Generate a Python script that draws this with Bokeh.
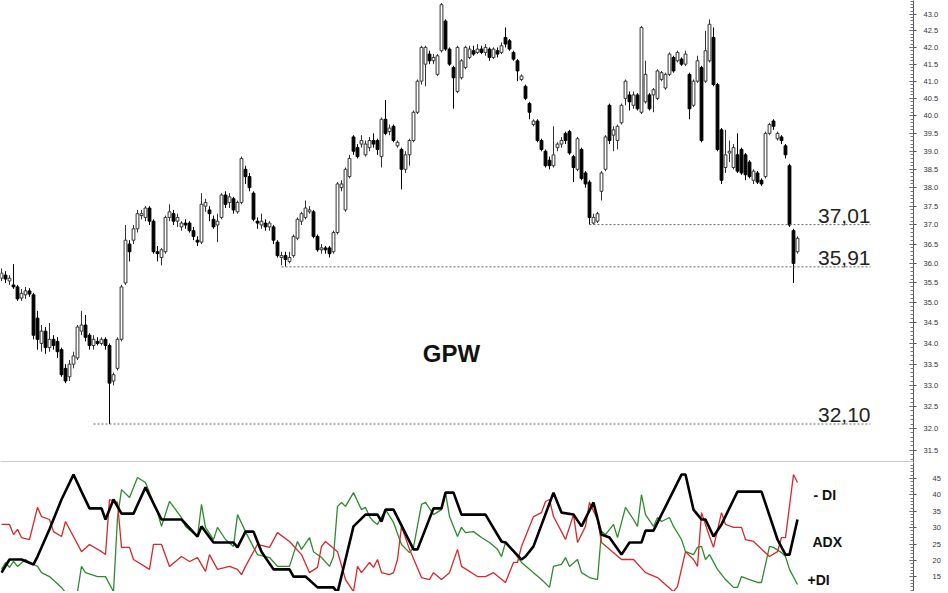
import numpy as np
from bokeh.plotting import figure
from bokeh.layouts import column
from bokeh.models import Range1d, FixedTicker, PrintfTickFormatter, Label, ColumnDataSource
from bokeh.core.properties import value
from bokeh.embed import file_html
from bokeh.resources import INLINE

# ---------------- price data (daily candles) ----------------
open_ = [35.62, 35.70, 35.55, 35.45, 35.40, 35.12, 35.20, 35.30, 35.20, 34.62,
         34.00, 34.30, 33.90, 34.10, 34.05, 33.85, 33.40, 33.20, 33.50, 33.65,
         34.30, 34.45, 34.20, 33.95, 34.05, 34.00, 34.10, 33.95, 33.10, 33.40,
         34.10, 35.50, 36.50, 36.60, 36.90, 37.25, 37.20, 37.45, 37.10, 36.30,
         36.15, 36.30, 37.20, 37.30, 37.10, 36.95, 37.05, 37.05, 36.85, 36.60,
         36.55, 37.50, 37.40, 37.15, 37.00, 37.20, 37.80, 37.60, 37.70, 37.35,
         37.60, 38.50, 38.30, 37.85, 37.10, 37.00, 37.05, 36.95, 36.95, 36.55,
         36.15, 36.20, 36.05, 36.20, 36.65, 37.10, 37.20, 37.35, 37.35, 36.70,
         36.35, 36.40, 36.40, 36.30, 36.80, 38.00, 37.40, 38.30, 39.40, 39.10,
         39.20, 38.90, 39.10, 39.30, 39.30, 38.85, 39.90, 39.55, 39.70, 39.15,
         39.05, 38.50, 38.90, 39.30, 40.10, 41.00, 41.50, 41.80, 41.60, 41.20,
         41.90, 42.80, 41.95, 41.40, 40.70, 41.10, 41.40, 41.70, 41.90, 41.85,
         41.95, 41.85, 41.95, 41.70, 41.90, 41.85, 42.30, 42.20, 41.85, 41.60,
         41.05, 40.85, 40.35, 39.75, 39.85, 39.30, 39.00, 38.75, 38.60, 39.10,
         39.20, 39.50, 39.55, 38.85, 38.50, 39.05, 38.40, 38.15, 37.05, 37.10,
         37.90, 38.50, 40.30, 39.45, 39.30, 39.80, 40.50, 40.60, 40.30, 40.60,
         40.10, 40.40, 40.60, 40.60, 40.50, 41.05, 40.80, 41.20, 41.70, 41.60,
         41.65, 41.50, 41.20, 40.30, 41.00, 41.40, 41.00, 41.60, 42.30, 40.90,
         39.60, 38.55, 38.95, 38.55, 38.90, 39.05, 38.90, 38.70, 38.20, 38.40,
         38.20, 38.30, 39.50, 39.85, 39.35, 39.40, 39.15, 38.60, 36.85, 36.30]
high = [35.87, 35.80, 35.70, 35.98, 35.45, 35.35, 35.40, 35.37, 35.25, 34.80,
        34.45, 34.40, 34.50, 34.20, 34.15, 33.90, 33.50, 33.60, 33.80, 34.45,
        34.80, 34.70, 34.25, 34.20, 34.15, 34.15, 34.15, 34.00, 33.30, 34.15,
        35.45, 37.00, 36.60, 37.00, 37.40, 37.40, 37.50, 37.50, 37.15, 36.45,
        36.40, 37.25, 37.55, 37.40, 37.30, 37.10, 37.15, 37.10, 36.95, 36.70,
        37.85, 37.70, 37.50, 37.25, 37.30, 37.85, 37.90, 37.85, 37.75, 37.65,
        38.85, 38.60, 38.40, 37.90, 37.20, 37.30, 37.15, 37.10, 37.00, 36.60,
        36.30, 36.30, 36.30, 36.75, 37.20, 37.35, 37.65, 37.50, 37.40, 36.75,
        36.50, 36.45, 36.45, 36.85, 38.15, 38.20, 38.55, 38.90, 39.45, 39.20,
        39.45, 39.30, 39.40, 39.50, 39.35, 39.95, 40.45, 39.75, 39.75, 39.30,
        39.10, 39.00, 39.35, 40.15, 41.05, 42.05, 42.05, 41.90, 41.80, 41.80,
        43.35, 42.85, 42.00, 41.45, 42.05, 41.65, 42.05, 42.05, 42.05, 42.10,
        42.05, 42.10, 42.00, 42.00, 42.00, 42.15, 42.60, 42.25, 41.90, 41.65,
        41.20, 40.90, 40.40, 39.90, 39.90, 39.35, 39.05, 38.85, 39.70, 39.25,
        39.40, 39.55, 39.60, 38.90, 39.40, 39.10, 38.45, 38.20, 37.30, 37.35,
        38.45, 39.45, 40.35, 39.70, 39.75, 40.35, 41.05, 40.70, 40.70, 40.65,
        42.65, 41.60, 40.65, 40.80, 41.35, 41.30, 41.25, 41.85, 41.75, 41.90,
        41.70, 41.90, 41.25, 41.05, 41.75, 41.45, 42.50, 42.85, 42.60, 40.95,
        39.65, 39.60, 39.30, 39.20, 39.50, 39.10, 38.95, 38.75, 38.50, 38.45,
        38.25, 39.55, 39.80, 39.90, 39.55, 39.45, 39.20, 38.65, 36.90, 36.70]
low = [35.55, 35.50, 35.45, 35.35, 35.05, 35.05, 35.10, 35.15, 34.10, 33.85,
       33.80, 33.75, 33.80, 33.85, 33.65, 33.20, 33.05, 33.10, 33.40, 33.60,
       34.20, 34.05, 33.85, 33.85, 33.95, 33.95, 33.85, 32.10, 33.00, 33.35,
       34.05, 35.45, 36.05, 36.50, 36.80, 37.15, 37.10, 37.00, 36.25, 36.05,
       35.95, 36.25, 37.10, 37.00, 36.95, 36.85, 36.90, 36.80, 36.60, 36.45,
       36.50, 37.35, 37.10, 36.90, 36.55, 37.15, 37.45, 37.45, 37.30, 37.30,
       37.55, 38.10, 37.90, 37.10, 36.90, 36.90, 36.85, 36.85, 36.50, 36.15,
       35.95, 35.92, 36.00, 36.15, 36.60, 37.00, 37.15, 37.30, 36.65, 36.30,
       36.25, 36.25, 36.15, 36.25, 36.75, 37.90, 37.35, 38.25, 38.90, 38.80,
       39.10, 38.85, 39.00, 39.10, 38.90, 38.55, 39.45, 39.45, 39.25, 39.10,
       37.95, 38.40, 38.60, 39.25, 40.05, 40.90, 40.85, 41.50, 41.50, 41.15,
       41.85, 41.90, 41.45, 40.20, 40.65, 41.05, 41.35, 41.65, 41.75, 41.80,
       41.80, 41.75, 41.60, 41.65, 41.70, 41.80, 42.00, 41.90, 41.60, 41.00,
       41.00, 40.45, 39.90, 39.70, 39.25, 39.00, 38.55, 38.50, 38.55, 39.00,
       39.10, 39.20, 38.90, 38.15, 38.45, 38.20, 38.00, 37.01, 37.01, 37.05,
       37.65, 38.45, 39.20, 39.00, 39.05, 39.75, 40.30, 40.15, 40.20, 40.15,
       40.05, 40.35, 40.15, 40.10, 40.45, 41.00, 40.75, 41.15, 41.25, 41.55,
       41.45, 41.45, 39.90, 40.25, 40.95, 39.25, 40.95, 41.55, 40.85, 39.00,
       38.10, 38.40, 38.70, 38.50, 38.40, 38.35, 38.20, 38.25, 38.10, 38.10,
       38.05, 38.25, 39.45, 39.60, 39.30, 39.20, 38.80, 36.95, 35.50, 36.25]
close = [35.75, 35.60, 35.62, 35.40, 35.10, 35.24, 35.30, 35.22, 34.20, 34.10,
         34.30, 33.90, 34.10, 33.95, 33.80, 33.25, 33.10, 33.50, 33.70, 34.40,
         34.45, 34.15, 33.95, 34.10, 34.00, 34.10, 33.95, 33.05, 33.25, 34.10,
         35.40, 36.60, 36.30, 36.90, 37.30, 37.30, 37.45, 37.10, 36.30, 36.25,
         36.35, 37.20, 37.35, 37.10, 37.20, 37.05, 37.00, 36.85, 36.70, 36.55,
         37.55, 37.60, 37.30, 36.95, 37.10, 37.80, 37.55, 37.75, 37.40, 37.60,
         38.80, 38.30, 38.00, 37.15, 37.05, 37.10, 36.95, 37.05, 36.60, 36.20,
         36.20, 36.10, 36.15, 36.70, 37.15, 37.30, 37.45, 37.40, 36.70, 36.35,
         36.40, 36.35, 36.25, 36.80, 38.10, 38.10, 38.50, 38.80, 39.00, 38.85,
         39.30, 39.20, 39.30, 39.20, 39.05, 39.90, 39.50, 39.65, 39.30, 39.25,
         38.50, 38.90, 39.30, 40.10, 41.00, 42.00, 42.00, 41.60, 41.70, 41.75,
         43.30, 41.95, 41.50, 41.10, 42.00, 41.60, 42.00, 41.95, 41.80, 41.95,
         41.85, 42.00, 41.70, 41.95, 41.80, 42.05, 42.10, 41.95, 41.65, 41.30,
         41.15, 40.50, 40.10, 39.85, 39.30, 39.05, 38.60, 38.60, 38.90, 39.20,
         39.30, 39.30, 38.95, 38.55, 39.35, 38.25, 38.10, 37.20, 37.20, 37.30,
         38.40, 39.40, 39.30, 39.60, 39.70, 40.30, 41.00, 40.40, 40.60, 40.20,
         42.60, 41.20, 40.20, 40.75, 41.30, 41.25, 41.20, 41.80, 41.30, 41.85,
         41.50, 41.80, 40.20, 41.00, 41.60, 39.30, 41.90, 42.70, 40.90, 39.05,
         38.20, 38.90, 39.00, 39.10, 38.45, 38.40, 38.35, 38.30, 38.45, 38.15,
         38.10, 39.50, 39.75, 39.70, 39.50, 39.30, 38.90, 37.00, 36.00, 36.65]
day = list(range(len(close)))

# ---------------- ADX / DI (vertices read per session) ----------------
adx_day = [0, 2, 5, 8, 9, 12, 15, 18, 20, 22, 25, 26, 28, 30, 33, 36, 40, 45, 49, 50,
           53, 58, 59, 61, 63, 65, 68, 72, 73, 76, 79, 83, 84, 86, 88, 91, 94, 95, 96, 98,
           103, 104, 108, 110, 111, 113, 115, 121, 125, 126, 130, 131, 133, 138, 140, 143,
           145, 148, 150, 152, 155, 157, 160, 161, 163, 170, 171, 173, 175, 176, 178, 180,
           184, 190, 194, 196, 197, 199]
adx_val = [16.3, 20.3, 20.3, 18.8, 21.2, 29.5, 38.6, 46.2, 41.0, 35.9, 35.9, 32.5, 38.6,
           34.3, 34.3, 42.3, 32.5, 32.5, 27.3, 30.4, 25.5, 25.5, 24.0, 28.8, 28.8, 22.7,
           17.3, 17.3, 15.1, 15.1, 11.8, 11.8, 10.2, 20.3, 30.4, 34.0, 34.0, 31.9, 35.5,
           35.5, 23.4, 23.4, 35.9, 35.9, 40.7, 40.7, 34.0, 34.0, 25.8, 25.5, 20.3, 21.2,
           24.3, 40.7, 34.6, 34.0, 30.4, 37.7, 27.9, 27.0, 21.8, 25.5, 25.5, 29.1, 29.1,
           46.2, 46.2, 35.5, 32.5, 32.5, 27.3, 31.0, 41.0, 41.0, 26.4, 21.8, 21.8, 32.5]

mdi_day = [0, 2, 3, 4, 5, 7, 9, 10, 12, 13, 15, 16, 20, 22, 25, 26, 27, 29, 30, 32,
           33, 37, 38, 40, 42, 45, 47, 49, 51, 52, 54, 57, 59, 60, 61, 64, 67, 69, 72, 75,
           77, 79, 80, 81, 84, 86, 88, 89, 90, 92, 93, 94, 95, 97, 98, 99, 100, 102, 105,
           107, 108, 110, 112, 114, 115, 119, 121, 123, 126, 128, 129, 130, 132, 133, 135,
           136, 137, 138, 140, 141, 143, 144, 146, 147, 149, 150, 152, 155, 157, 158, 161,
           164, 168, 169, 171, 173, 174, 175, 177, 178, 180, 181, 183, 185, 186, 188, 192,
           194, 195, 196, 198, 199]
mdi_val = [31.0, 31.0, 27.9, 29.5, 27.0, 26.4, 36.2, 33.4, 32.5, 28.8, 27.3, 31.9, 22.7,
           24.9, 22.7, 21.8, 38.6, 37.7, 24.0, 24.0, 20.3, 17.3, 24.9, 24.9, 18.2, 21.2,
           19.7, 20.9, 16.7, 21.8, 17.3, 18.2, 17.3, 15.7, 18.2, 24.9, 24.0, 28.5, 25.8,
           21.8, 16.3, 17.9, 24.3, 25.8, 22.7, 14.2, 10.5, 18.2, 16.3, 19.4, 17.9, 20.3,
           16.3, 15.7, 16.3, 20.3, 30.4, 23.4, 14.8, 14.2, 16.3, 14.2, 16.3, 23.4, 18.2,
           15.1, 15.1, 16.3, 13.3, 19.4, 19.4, 24.3, 30.4, 33.4, 34.6, 38.0, 38.6, 33.4,
           28.8, 26.4, 34.0, 25.5, 30.4, 37.7, 32.5, 25.5, 23.4, 20.3, 20.3, 20.3, 16.3,
           14.8, 10.5, 12.1, 22.7, 20.3, 18.2, 34.6, 27.3, 24.0, 34.6, 31.0, 30.1, 30.1,
           26.4, 25.8, 21.2, 22.7, 27.0, 27.0, 46.2, 43.8]

pdi_day = [0, 1, 2, 3, 4, 6, 7, 9, 10, 12, 15, 16, 19, 20, 21, 24, 26, 28, 29, 30,
           32, 34, 36, 39, 40, 42, 45, 46, 49, 50, 51, 53, 54, 56, 58, 59, 61, 63, 64, 67,
           69, 72, 74, 75, 77, 78, 80, 82, 83, 84, 85, 86, 88, 90, 91, 92, 93, 94, 96, 98,
           100, 102, 103, 105, 106, 108, 110, 111, 112, 114, 115, 116, 118, 120, 122, 124,
           125, 126, 128, 130, 132, 133, 135, 137, 138, 140, 141, 142, 144, 145, 147, 149,
           150, 151, 153, 154, 156, 158, 159, 160, 161, 163, 164, 165, 167, 168, 170, 171,
           173, 174, 175, 176, 177, 179, 181, 183, 184, 185, 187, 189, 190, 192, 193, 195,
           196, 197, 199]
pdi_val = [17.3, 19.4, 17.9, 19.7, 18.2, 20.3, 19.4, 18.2, 16.3, 15.1, 11.8, 10.2, 10.5,
           18.2, 16.3, 15.1, 15.1, 10.5, 33.1, 41.6, 39.2, 45.3, 43.8, 34.6, 30.4, 38.0,
           33.1, 30.4, 27.3, 37.1, 30.1, 26.4, 30.1, 26.4, 24.3, 34.0, 28.8, 24.0, 21.8,
           20.9, 18.2, 18.2, 25.8, 23.4, 27.0, 22.7, 20.9, 18.2, 21.2, 36.5, 37.7, 36.5,
           40.7, 35.5, 36.2, 33.4, 31.9, 31.0, 35.5, 31.6, 24.9, 22.4, 24.0, 37.1, 37.7,
           34.0, 35.5, 40.7, 33.4, 27.3, 30.1, 28.5, 28.8, 27.0, 25.5, 23.4, 21.2, 25.5,
           22.7, 19.4, 17.3, 16.3, 14.2, 11.8, 18.2, 18.8, 20.9, 18.2, 20.3, 16.3, 14.8,
           14.2, 28.8, 27.9, 31.0, 27.0, 36.2, 32.5, 30.4, 40.1, 34.0, 30.4, 33.1, 31.9,
           33.1, 30.4, 26.4, 22.7, 21.8, 24.0, 24.3, 20.3, 21.8, 17.3, 14.2, 11.8, 11.8,
           15.1, 14.2, 13.3, 13.3, 24.3, 24.0, 22.4, 21.2, 17.3, 12.7]

# ---------------- support levels ----------------
levels = [32.10, 35.91, 37.01]
level_start = [23, 70, 147]
level_end = [217.25, 217.25, 217.25]
level_text = [f"{v:.2f}".replace(".", ",") for v in levels]

price_ticks = [31.5, 32.0, 32.5, 33.0, 33.5, 34.0, 34.5, 35.0, 35.5, 36.0, 36.5, 37.0,
               37.5, 38.0, 38.5, 39.0, 39.5, 40.0, 40.5, 41.0, 41.5, 42.0, 42.5, 43.0, 43.5]
ind_ticks = [10, 15, 20, 25, 30, 35, 40, 45]

# ---------------- build ----------------
o = np.array(open_); c = np.array(close); h = np.array(high); lo = np.array(low)
d = np.array(day)
up = c >= o
src_up = ColumnDataSource(dict(x=d[up], top=c[up], bottom=o[up], h=h[up], l=lo[up]))
src_dn = ColumnDataSource(dict(x=d[~up], top=o[~up], bottom=c[~up], h=h[~up], l=lo[~up]))

FONT = "Liberation Sans"
xr = Range1d(-0.25, 228)

p1 = figure(frame_width=913, frame_height=462, x_range=xr, y_range=Range1d(31.23, 43.43),
            y_axis_type="log", y_axis_location="right", output_backend="svg",
            toolbar_location=None, min_border=0)
p1.outline_line_color = None
p1.xgrid.visible = False
p1.ygrid.visible = False

# separator line (x axis without ticks / labels)
xa = p1.xaxis[0]
xa.ticker = FixedTicker(ticks=[], minor_ticks=[])
xa.major_tick_in = 0; xa.major_tick_out = 0
xa.minor_tick_in = 0; xa.minor_tick_out = 0
xa.major_label_standoff = 0
xa.axis_line_color = "#9a9a9a"
xa.axis_line_width = 2

ya = p1.yaxis[0]
ya.ticker = FixedTicker(ticks=price_ticks,
                        minor_ticks=[round(31.0 + 0.1 * k, 1) for k in range(0, 131)])
ya.formatter = PrintfTickFormatter(format="%.1f")
ya.major_label_text_font = FONT
ya.major_label_text_font_size = "7.5px"
ya.major_label_text_color = "#333333"
ya.axis_line_color = "#555555"
ya.major_tick_line_color = "#555555"
ya.minor_tick_line_color = "#777777"
ya.major_tick_in = 4; ya.major_tick_out = 3
ya.minor_tick_in = 3; ya.minor_tick_out = 0
ya.major_label_standoff = 7

# wicks
p1.segment(x0="x", y0="h", x1="x", y1="l", source=src_up, line_color="#333333", line_width=1)
p1.segment(x0="x", y0="h", x1="x", y1="l", source=src_dn, line_color="black", line_width=1)
# bodies
p1.vbar(x="x", top="top", bottom="bottom", width=0.7, source=src_up,
        fill_color="white", line_color="#333333", line_width=1)
p1.vbar(x="x", top="top", bottom="bottom", width=0.7, source=src_dn,
        fill_color="black", line_color="black", line_width=1)

# support lines + labels
p1.segment(x0=level_start, y0=levels, x1=level_end, y1=levels,
           line_color="#666666", line_width=1, line_dash="2 2")
p1.text(x=level_end, y=levels, text=level_text, text_align="right", text_baseline="bottom",
        y_offset=-2, text_font=value(FONT), text_font_size="21px", text_color="#222222")

p1.add_layout(Label(x=112.5, y=33.76, text="GPW", text_align="center",
                    text_baseline="alphabetic", text_font=FONT, text_font_style="bold",
                    text_font_size="24px", text_color="#111111"))

# ---------------- indicator panel ----------------
p2 = figure(frame_width=913, frame_height=129, x_range=xr, y_range=Range1d(10.55, 49.88),
            y_axis_location="right", output_backend="svg", toolbar_location=None, min_border=0)
p2.outline_line_color = None
p2.xgrid.visible = False
p2.ygrid.visible = False
p2.xaxis.visible = False

yb = p2.yaxis[0]
yb.ticker = FixedTicker(ticks=ind_ticks, minor_ticks=list(range(9, 51)))
yb.major_label_text_font = FONT
yb.major_label_text_font_size = "7.5px"
yb.major_label_text_color = "#333333"
yb.axis_line_color = "#555555"
yb.major_tick_line_color = "#555555"
yb.minor_tick_line_color = "#777777"
yb.major_tick_in = 4; yb.major_tick_out = 3
yb.minor_tick_in = 3; yb.minor_tick_out = 0
yb.major_label_standoff = 16

p2.line(pdi_day, pdi_val, line_color="#2e8b2e", line_width=1.3)
p2.line(mdi_day, mdi_val, line_color="#d42a2a", line_width=1.3)
p2.line(adx_day, adx_val, line_color="black", line_width=2.6)

for txt, xx, yy in [("- DI", 203, 40.1), ("ADX", 202.75, 25.5), ("+DI", 201.5, 14.2)]:
    p2.add_layout(Label(x=xx, y=yy, text=txt, text_align="left", text_baseline="alphabetic",
                        text_font=FONT, text_font_style="bold", text_font_size="14px",
                        text_color="#111111"))

layout = column(p1, p2, spacing=0)
open("out.html", "w").write(file_html(layout, INLINE))
